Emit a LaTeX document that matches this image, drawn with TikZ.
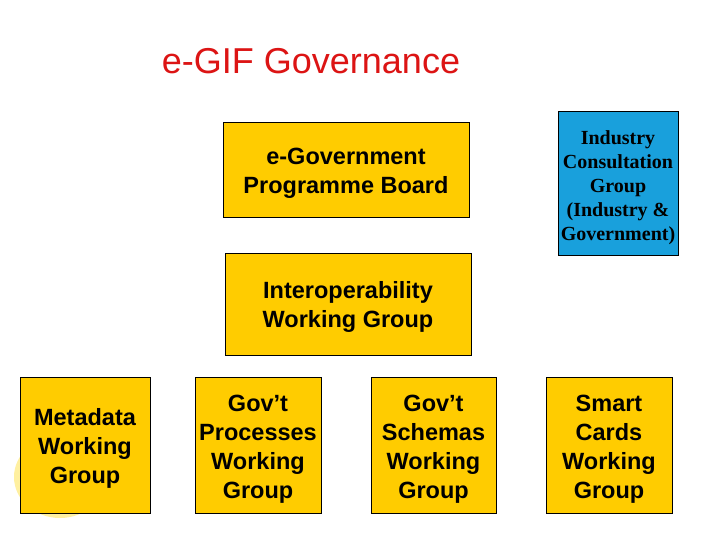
\documentclass[tikz,border=0pt]{standalone}
\usepackage{fontspec}
\setmainfont{Liberation Sans}
\newfontfamily\serifb{Liberation Serif}
\definecolor{gold}{RGB}{255,204,0}
\definecolor{skyb}{RGB}{25,160,220}
\definecolor{titred}{RGB}{220,20,20}
\definecolor{paleyel}{RGB}{255,240,160}
\begin{document}
\begin{tikzpicture}[x=1pt,y=-1pt,
  ybox/.style={draw=black,line width=0.8pt,fill=gold,inner sep=0pt},
  ytext/.style={align=center,inner sep=0pt,font=\fontsize{23.5}{29}\selectfont\bfseries},
  bbox/.style={draw=black,line width=0.8pt,fill=skyb,inner sep=0pt},
  btext/.style={align=center,inner sep=0pt,font=\serifb\fontsize{20}{24}\selectfont\bfseries}]
\useasboundingbox (0,0) rectangle (720,540);
\fill[white] (0,0) rectangle (720,540);
\fill[paleyel] (60,477) ellipse [x radius=46, y radius=41];
\node[text=titred,font=\fontsize{36}{40}\selectfont] (title) at (311,61) {e-GIF Governance};
\node[ybox,minimum width=246,minimum height=95] (board) at (346,169.5) {};
\node[ytext] at ([yshift=-3.5pt]board.center) {e-Government\\Programme Board};
\node[bbox,minimum width=120,minimum height=144] (icg) at (618,183) {};
\node[btext] at ([yshift=-4.5pt]icg.center) {Industry\\Consultation\\Group\\(Industry \&\\Government)};
\node[ybox,minimum width=246,minimum height=102] (iwg) at (348,304) {};
\node[ytext] at ([yshift=-3pt]iwg.center) {Interoperability\\Working Group};
\node[ybox,minimum width=130,minimum height=136] (meta) at (85,445) {};
\node[ytext] at ([yshift=-3pt]meta.center) {Metadata\\Working\\Group};
\node[ybox,minimum width=126,minimum height=136] (proc) at (258,445) {};
\node[ytext] at ([yshift=-4.5pt]proc.center) {Gov’t\\Processes\\Working\\Group};
\node[ybox,minimum width=125,minimum height=136] (schem) at (433.5,445) {};
\node[ytext] at ([yshift=-4.5pt]schem.center) {Gov’t\\Schemas\\Working\\Group};
\node[ybox,minimum width=126,minimum height=136] (smart) at (609,445) {};
\node[ytext] at ([yshift=-4.5pt]smart.center) {Smart\\Cards\\Working\\Group};
\end{tikzpicture}
\end{document}
